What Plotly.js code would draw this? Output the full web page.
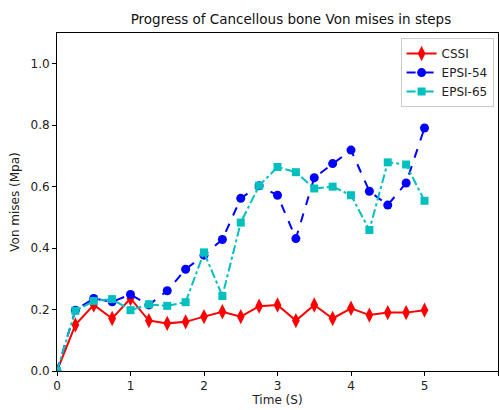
<!DOCTYPE html>
<html><head><meta charset="utf-8">
<script src="https://cdn.plot.ly/plotly-3.0.1.min.js"></script>
<style>html,body{margin:0;padding:0;background:#fff}#chart{width:499px;height:410px}</style>
</head><body><div id="chart"></div>
<script>
const timeSteps = [0,0.25,0.5,0.75,1,1.25,1.5,1.75,2,2.25,2.5,2.75,3,3.25,3.5,3.75,4,4.25,4.5,4.75,5];
const cssi   = [0,0.150,0.215,0.171,0.236,0.164,0.155,0.160,0.177,0.193,0.177,0.211,0.215,0.164,0.215,0.171,0.204,0.182,0.190,0.190,0.198];
const epsi54 = [0,0.198,0.236,0.225,0.249,0.215,0.261,0.331,0.377,0.428,0.562,0.603,0.572,0.431,0.629,0.675,0.719,0.585,0.540,0.612,0.791];
const epsi65 = [0,0.196,0.228,0.234,0.198,0.217,0.212,0.224,0.386,0.244,0.483,0.603,0.664,0.647,0.594,0.600,0.572,0.459,0.679,0.672,0.554];
const xTicks = [0,1,2,3,4,5,6];
const yTicks = [0,0.2,0.4,0.6,0.8,1.0];

const traces = [
  {x: timeSteps, y: cssi, name: 'CSSI', mode: 'lines+markers',
   line: {color: '#ff0000', width: 2, dash: 'solid'},
   marker: {symbol: 'diamond-tall', size: 11, color: '#ff0000'}},
  {x: timeSteps, y: epsi54, name: 'EPSI-54', mode: 'lines+markers',
   line: {color: '#0000ff', width: 2, dash: 'dash'},
   marker: {symbol: 'circle', size: 9, color: '#0000ff'}},
  {x: timeSteps, y: epsi65, name: 'EPSI-65', mode: 'lines+markers',
   line: {color: '#00bfbf', width: 2, dash: 'dashdot'},
   marker: {symbol: 'square', size: 8, color: '#00bfbf'}}
];

const axisCommon = {showline: true, mirror: true, linecolor: '#000', linewidth: 1,
  ticks: 'outside', ticklen: 4, tickcolor: '#000', showgrid: false, zeroline: false,
  tickfont: {family: 'DejaVu Sans', size: 12, color: '#222'}};

const layout = {
  width: 499, height: 410,
  margin: {l: 57, r: 1, t: 33, b: 39},
  paper_bgcolor: '#fff', plot_bgcolor: '#fff',
  font: {family: 'DejaVu Sans', color: '#222'},
  title: {text: 'Progress of Cancellous bone Von mises in steps', x: 0.583, xanchor: 'center',
          yref: 'container', y: 0.953, yanchor: 'middle',
          font: {family: 'DejaVu Sans', size: 13.5, color: '#111'}},
  xaxis: Object.assign({}, axisCommon, {range: [0, 6], tickvals: xTicks, ticktext: xTicks.map(String),
          title: {text: 'Time (S)', standoff: 1, font: {family: 'DejaVu Sans', size: 12, color: '#222'}}}),
  yaxis: Object.assign({}, axisCommon, {range: [0, 1.1], tickvals: yTicks, ticktext: yTicks.map(v => v.toFixed(1)),
          title: {text: 'Von mises (Mpa)', standoff: 8, font: {family: 'DejaVu Sans', size: 12, color: '#222'}}}),
  legend: {x: 0.99, xanchor: 'right', y: 0.985, yanchor: 'top', bgcolor: 'rgba(255,255,255,0.8)',
           bordercolor: '#ccc', borderwidth: 1, font: {family: 'DejaVu Sans', size: 12, color: '#222'},
           tracegroupgap: 0},
  showlegend: true
};

Plotly.newPlot('chart', traces, layout, {displayModeBar: false, staticPlot: true});
</script>
</body></html>
